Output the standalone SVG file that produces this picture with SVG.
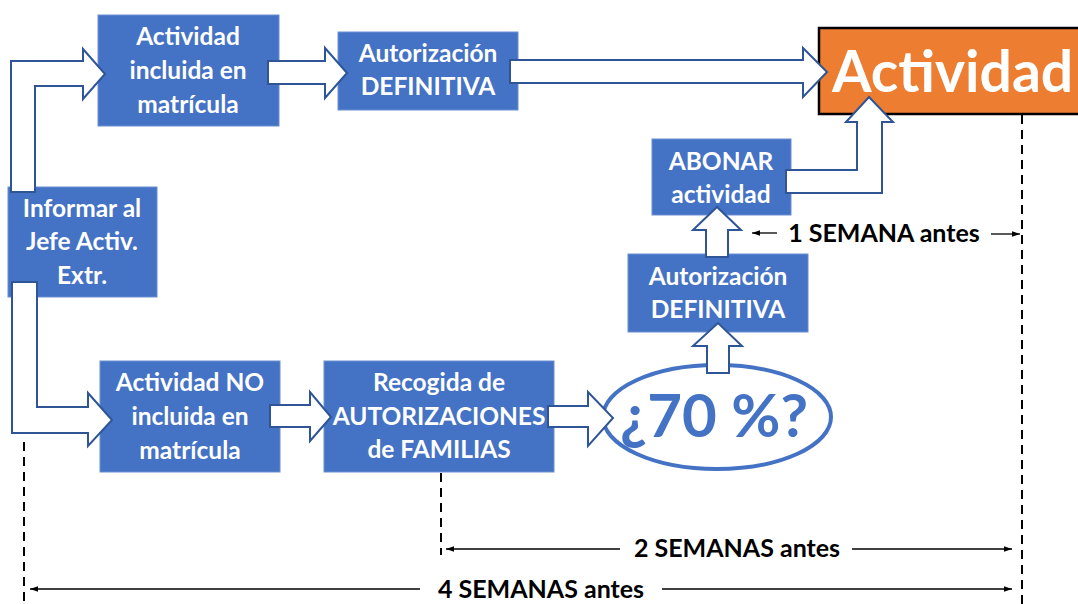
<svg xmlns="http://www.w3.org/2000/svg" width="1078" height="604" viewBox="0 0 1078 604">
<defs>
<style>
.box{fill:#4472C4;stroke:#6A8FD3;stroke-width:1}
.bt{fill:#fff;font-family:Lato,"Liberation Sans",sans-serif;font-weight:bold;font-size:24.5px;text-anchor:middle}
.arr{fill:#fff;stroke:#2F5597;stroke-width:2;stroke-linejoin:miter}
.dash{stroke:#000;stroke-width:2;stroke-dasharray:9,6;fill:none}
.dim{stroke:#000;stroke-width:1.3;fill:none}
.dt{fill:#000;font-family:Lato,"Liberation Sans",sans-serif;font-weight:bold;font-size:25px;text-anchor:middle}
</style>
<marker id="ah" viewBox="0 0 10 10" refX="10" refY="5" markerWidth="8" markerHeight="8" orient="auto-start-reverse" markerUnits="userSpaceOnUse">
<path d="M0,1.5 L10,5 L0,8.5 Z" fill="#000"/>
</marker>
</defs>
<rect width="1078" height="604" fill="#fff"/>

<g id="guides">
<line class="dash" x1="24" y1="442" x2="24" y2="604"/>
<line class="dash" x1="441" y1="473" x2="441" y2="555"/>
<line class="dash" x1="1022" y1="115" x2="1022" y2="604"/>
</g>

<g id="n-incluida"><rect class="box" x="98" y="15" width="181" height="111"/>
<text class="bt" x="188" y="45">Actividad</text><text class="bt" x="188" y="79">incluida en</text><text class="bt" x="188" y="113">matrícula</text></g>

<g id="n-autdef1"><rect class="box" x="338" y="32" width="180" height="78"/>
<text class="bt" x="428" y="62">Autorización</text><text class="bt" x="428" y="95">DEFINITIVA</text></g>

<g id="n-actividad"><rect x="819" y="28" width="262" height="86" fill="#ED7D31" stroke="#000" stroke-width="2.5"/>
<text x="832" y="92" fill="#fff" font-family="Lato,'Liberation Sans',sans-serif" font-weight="bold" font-size="57">Actividad</text></g>

<g id="n-abonar"><rect class="box" x="652" y="139" width="139" height="76"/>
<text class="bt" x="721" y="170">ABONAR</text><text class="bt" x="721" y="203">actividad</text></g>

<g id="n-autdef2"><rect class="box" x="628" y="254" width="180" height="78"/>
<text class="bt" x="718" y="285">Autorización</text><text class="bt" x="718" y="318">DEFINITIVA</text></g>

<g id="n-informar"><rect class="box" x="8" y="187" width="149" height="110"/>
<text class="bt" x="82" y="217">Informar al</text><text class="bt" x="82" y="250">Jefe Activ.</text><text class="bt" x="82" y="284">Extr.</text></g>

<g id="n-noincluida"><rect class="box" x="100" y="361" width="180" height="111"/>
<text class="bt" x="190" y="391">Actividad NO</text><text class="bt" x="190" y="425">incluida en</text><text class="bt" x="190" y="459">matrícula</text></g>

<g id="n-recogida"><rect class="box" x="324" y="361" width="230" height="111"/>
<text class="bt" x="439" y="391">Recogida de</text><text class="bt" x="439" y="425" font-size="23.5">AUTORIZACIONES</text><text class="bt" x="439" y="458">de FAMILIAS</text></g>

<g id="n-70"><ellipse cx="717" cy="417" rx="114" ry="52" fill="#fff" stroke="#4472C4" stroke-width="4"/>
<text x="714" y="437" fill="#4472C4" font-family="Lato,'Liberation Sans',sans-serif" font-weight="bold" font-size="60" text-anchor="middle">¿70 %?</text></g>

<g id="connectors">
<polygon class="arr" points="11,192 11,61 83,61 83,49 105,74 83,99 83,86 35,86 35,192"/>
<polygon class="arr" points="12,282 12,433 88,433 88,446 112,420 88,393 88,407 37,407 37,282"/>
<polygon class="arr" points="268,61 325,61 325,48 347,73 325,98 325,84 268,84"/>
<polygon class="arr" points="510,60 803,60 803,48 827,72 803,97 803,83 510,83"/>
<polygon class="arr" points="786,170 857,170 857,122 846,122 869,97 893,122 882,122 882,193 786,193"/>
<polygon class="arr" points="706,257 706,230 693,230 717,207 741,230 728,230 728,257"/>
<polygon class="arr" points="707,373 707,346 693,346 718,323 742,346 729,346 729,373"/>
<polygon class="arr" points="270,405 310,405 310,392 331,417 310,441 310,427 270,427"/>
<polygon class="arr" points="548,406 588,406 588,392 613,418 588,446 588,427 548,427"/>
</g>

<g id="dimensions">
<line class="dim" x1="777" y1="233" x2="752" y2="233" marker-end="url(#ah)"/>
<text class="dt" x="884" y="242">1 SEMANA antes</text>
<line class="dim" x1="991" y1="234" x2="1020" y2="234" marker-end="url(#ah)"/>
<line class="dim" x1="620" y1="549" x2="446" y2="549" marker-end="url(#ah)"/>
<text class="dt" x="737" y="557">2 SEMANAS antes</text>
<line class="dim" x1="852" y1="549" x2="1012" y2="549" marker-end="url(#ah)"/>
<line class="dim" x1="420" y1="589" x2="30" y2="589" marker-end="url(#ah)"/>
<text class="dt" x="541" y="598">4 SEMANAS antes</text>
<line class="dim" x1="662" y1="589" x2="1012" y2="589" marker-end="url(#ah)"/>
</g>
</svg>
